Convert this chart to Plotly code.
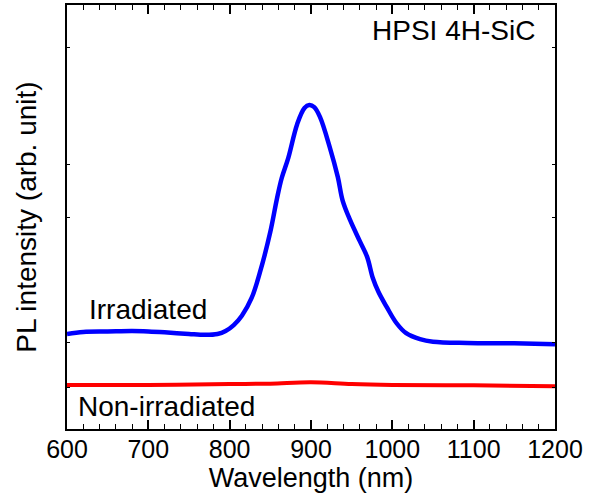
import plotly.graph_objects as go

# Irradiated spectrum (blue)
irr_wl = [600, 620, 650, 680, 700, 720, 750, 770, 785, 795, 805, 815, 827, 837, 850,
          858, 864, 872, 883, 892, 898, 904, 911, 923, 933, 939, 948, 960, 969, 976,
          983, 993, 1005, 1017, 1034, 1050, 1092, 1150, 1200]
irr_int = [2.24, 2.29, 2.30, 2.31, 2.30, 2.28, 2.24, 2.22, 2.24, 2.31, 2.45, 2.67, 3.09, 3.68, 4.65,
           5.42, 5.92, 6.39, 7.19, 7.57, 7.64, 7.59, 7.36, 6.65, 5.94, 5.38, 4.93, 4.43, 4.06, 3.56,
           3.23, 2.88, 2.50, 2.26, 2.12, 2.06, 2.03, 2.02, 2.00]

# Non-irradiated spectrum (red)
non_wl = [600, 700, 800, 850, 900, 950, 1000, 1100, 1200]
non_int = [1.04, 1.04, 1.06, 1.07, 1.10, 1.06, 1.04, 1.03, 1.01]

y_tick_vals = [0.99, 2.03, 5.0, 6.23, 8.99]
x_tick_vals = [600, 700, 800, 900, 1000, 1100, 1200]

FONT = "Liberation Sans, Arial, sans-serif"

fig = go.Figure()
fig.add_trace(go.Scatter(x=non_wl, y=non_int, mode="lines", line=dict(color="#ff0000", width=4, shape="spline"), showlegend=False))
fig.add_trace(go.Scatter(x=irr_wl, y=irr_int, mode="lines", line=dict(color="#0000ff", width=4.5, shape="spline"), showlegend=False))

fig.update_layout(
    width=591, height=501,
    margin=dict(l=67, r=36, t=5, b=72, autoexpand=False),
    paper_bgcolor="white", plot_bgcolor="white",
    font=dict(family=FONT, size=25, color="black"),
    showlegend=False,
)
fig.update_xaxes(
    range=[600, 1200], tickvals=x_tick_vals, ticks="inside", ticklen=9, tickwidth=1.5, tickcolor="black",
    minor=dict(dtick=20, ticks="inside", ticklen=5, tickwidth=1.2, tickcolor="black"),
    showline=True, linewidth=2, linecolor="black", mirror="ticks", showgrid=False, zeroline=False,
    automargin=False, ticklabelstandoff=-3,
    tickfont=dict(size=25), title=dict(text="Wavelength (nm)", font=dict(size=27), standoff=4),
)
fig.update_yaxes(
    range=[0, 10], tickvals=y_tick_vals, ticks="inside", ticklen=3, tickwidth=1.2, tickcolor="black",
    showticklabels=False, automargin=False,
    showline=True, linewidth=2, linecolor="black", mirror="ticks", showgrid=False, zeroline=False,
    title=dict(text="PL intensity (arb. unit)", font=dict(size=28), standoff=20),
)

fig.add_annotation(x=0.963, y=0.940, xref="paper", yref="paper", text="HPSI 4H-SiC", showarrow=False,
                   xanchor="right", yanchor="middle", font=dict(size=28))
fig.add_annotation(x=0.041, y=0.282, xref="paper", yref="paper", text="Irradiated", showarrow=False,
                   xanchor="left", yanchor="middle", font=dict(size=28))
fig.add_annotation(x=0.018, y=0.052, xref="paper", yref="paper", text="Non-irradiated", showarrow=False,
                   xanchor="left", yanchor="middle", font=dict(size=28))

fig.write_html("out.html", config={"displayModeBar": False},
               post_script="document.body.style.margin='0';document.body.style.overflow='hidden';")
